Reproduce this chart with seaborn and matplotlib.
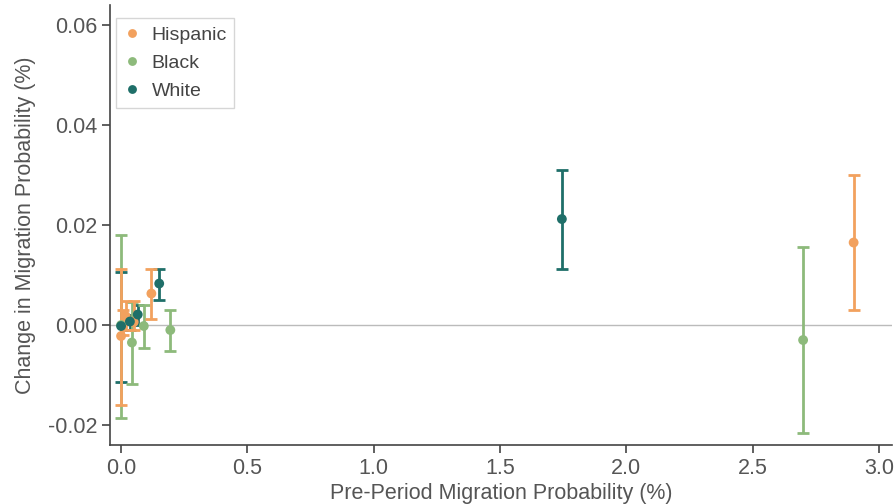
import numpy as np
import pandas as pd
import matplotlib
matplotlib.use("Agg")
import matplotlib.pyplot as plt
import seaborn as sns

# Data
GROUPS = ["Hispanic", "Black", "White"]
COLORS = {"Hispanic": "#F2A15E", "Black": "#8DBA7B", "White": "#1F6F69"}

hisp_x = [0.0, 0.006, 0.018, 0.05, 0.12, 2.90]
hisp_y = [-0.0022, 0.0, 0.0018, 0.0006, 0.0063, 0.0165]
hisp_lo = [-0.016, -0.002, -0.001, -0.001, 0.0013, 0.003]
hisp_hi = [0.0112, 0.003, 0.0048, 0.0048, 0.0113, 0.030]

black_x = [0.0, 0.043, 0.09, 0.195, 2.70]
black_y = [0.0, -0.0035, -0.0002, -0.001, -0.003]
black_lo = [-0.0186, -0.0117, -0.0045, -0.0051, -0.0215]
black_hi = [0.018, 0.0047, 0.004, 0.003, 0.0156]

white_x = [0.0, 0.035, 0.066, 0.151, 1.745]
white_y = [-0.0002, 0.0007, 0.0021, 0.0083, 0.0212]
white_lo = [-0.0113, -0.001, 0.0001, 0.0051, 0.0112]
white_hi = [0.0107, 0.002, 0.0041, 0.0113, 0.031]

frames = []
for name, xs, ys, lo, hi in [("Hispanic", hisp_x, hisp_y, hisp_lo, hisp_hi),
                             ("Black", black_x, black_y, black_lo, black_hi),
                             ("White", white_x, white_y, white_lo, white_hi)]:
    frames.append(pd.DataFrame({"group": name, "x": xs, "y": ys, "lo": lo, "hi": hi}))
df = pd.concat(frames, ignore_index=True)

sns.set_style("ticks")
plt.rcParams["font.family"] = ["Liberation Sans", "DejaVu Sans"]

fig, ax = plt.subplots(figsize=(8.96, 5.04), dpi=100)
fig.subplots_adjust(left=0.123, right=0.995, top=0.99, bottom=0.117)

ax.axhline(0, color="#bbbbbb", lw=1, zorder=0)

# Error bars first (drawn in reverse so Hispanic sits on top)
for name in reversed(GROUPS):
    d = df[df.group == name]
    yerr = np.vstack([d.y - d.lo, d.hi - d.y])
    ax.errorbar(d.x, d.y, yerr=yerr, fmt="none", ecolor=COLORS[name],
                elinewidth=2, capsize=4, capthick=2, zorder=2)

sns.scatterplot(data=df, x="x", y="y", hue="group", hue_order=GROUPS,
                palette=COLORS, s=50, linewidth=0, ax=ax, zorder=3)

ax.set_xlim(-0.043, 3.05)
ax.set_ylim(-0.024, 0.064)
ax.set_xticks([0.0, 0.5, 1.0, 1.5, 2.0, 2.5, 3.0])
ax.set_xticklabels(["0.0", "0.5", "1.0", "1.5", "2.0", "2.5", "3.0"])
ax.set_yticks([-0.02, 0.0, 0.02, 0.04, 0.06])
ax.set_yticklabels(["-0.02", "0.00", "0.02", "0.04", "0.06"])

ax.set_xlabel("Pre-Period Migration Probability (%)", fontsize=15.5, color="#555555", labelpad=3)
ax.set_ylabel("Change in Migration Probability (%)", fontsize=15.5, color="#555555", labelpad=8)
ax.tick_params(labelsize=15.5, labelcolor="#555555", color="#444444", length=6, width=1.2)
for s in ["left", "bottom"]:
    ax.spines[s].set_color("#444444")
    ax.spines[s].set_linewidth(1.2)
sns.despine(ax=ax)

leg = ax.legend(loc="upper left", bbox_to_anchor=(0.008, 0.97), borderaxespad=0,
                fontsize=14, frameon=True, fancybox=False, handletextpad=0.6,
                handlelength=0.8, borderpad=0.4, labelspacing=0.55, markerscale=0.9)
leg.get_frame().set_edgecolor("#cccccc")
leg.get_frame().set_linewidth(1)
for t in leg.get_texts():
    t.set_color("#444444")

fig.savefig("out.png", dpi=100)
